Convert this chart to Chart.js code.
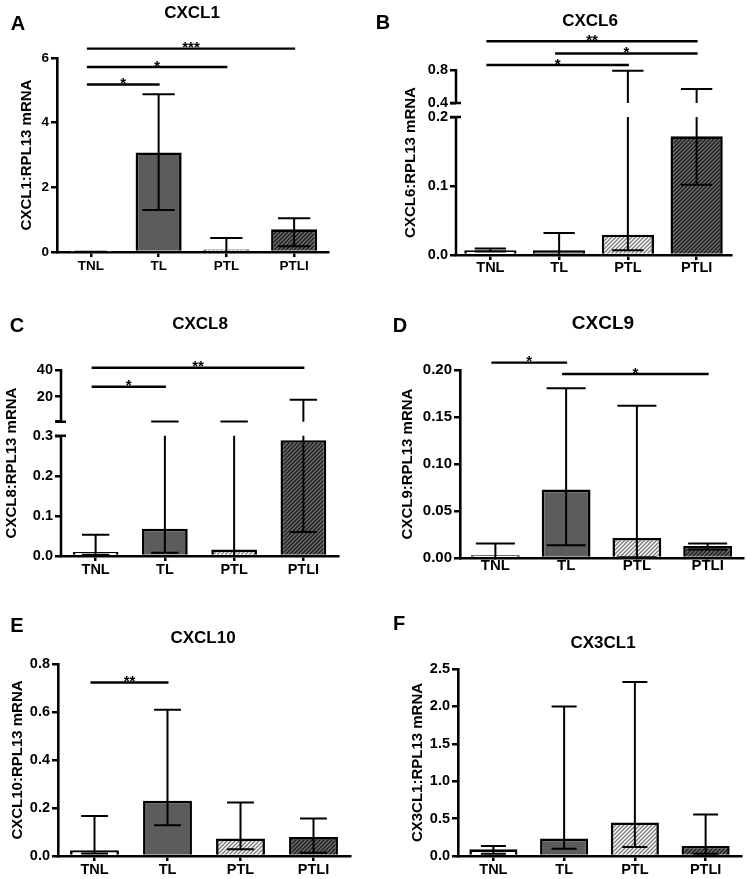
<!DOCTYPE html>
<html>
<head>
<meta charset="utf-8">
<title>Chemokine mRNA</title>
<script src="https://cdn.jsdelivr.net/npm/chart.js@4.4.1/dist/chart.umd.min.js"></script>
<style>
  body { margin: 0; background: #fff; }
  #fig { position: relative; width: 747px; height: 879px; overflow: hidden; font-family: 'Liberation Sans', Arial, sans-serif; font-weight: bold; color: #000; }
  #fig canvas { position: absolute; }
  .lbl { position: absolute; transform: translate(-50%, -50%); line-height: 1; white-space: nowrap; }
  .letter { font-size: 20px; }
  .ttl { font-size: 17px; }
</style>
</head>
<body>
<div id="fig">
  <canvas id="cA" width="373" height="280" style="left:0;top:0"></canvas>
  <canvas id="cB" width="374" height="280" style="left:373px;top:0"></canvas>
  <canvas id="cC" width="373" height="300" style="left:0;top:280px"></canvas>
  <canvas id="cD" width="374" height="300" style="left:373px;top:280px"></canvas>
  <canvas id="cE" width="373" height="299" style="left:0;top:580px"></canvas>
  <canvas id="cF" width="374" height="299" style="left:373px;top:580px"></canvas>

  <div class="lbl letter" style="left:18px;top:23px">A</div>
  <div class="lbl ttl" style="left:192px;top:12px">CXCL1</div>
  <div class="lbl letter" style="left:383px;top:22px">B</div>
  <div class="lbl ttl" style="left:590px;top:20px">CXCL6</div>
  <div class="lbl letter" style="left:17px;top:325px">C</div>
  <div class="lbl ttl" style="left:200px;top:323px">CXCL8</div>
  <div class="lbl letter" style="left:400px;top:325px">D</div>
  <div class="lbl ttl" style="left:603px;top:322px;font-size:19px">CXCL9</div>
  <div class="lbl letter" style="left:17px;top:625px">E</div>
  <div class="lbl ttl" style="left:203px;top:637px">CXCL10</div>
  <div class="lbl letter" style="left:399px;top:623px">F</div>
  <div class="lbl ttl" style="left:603px;top:642px">CX3CL1</div>
</div>
<script>
const groups = ['TNL', 'TL', 'PTL', 'PTLI'];

// CXCL1
const cxcl1Median = [0.004, 3.08, 0.08, 0.70];
const cxcl1Low = [0, 1.30, 0, 0.18];
const cxcl1High = [0.01, 4.88, 0.43, 1.04];
const cxcl1Ticks = [0, 2, 4, 6];
const cxcl1Labels = ['0', '2', '4', '6'];
const cxcl1Range = [[0, 6]];
const cxcl1Sig = [[0, 3, 6.29, '***'], [0, 2, 5.72, '*'], [0, 1, 5.18, '*']];

// CXCL6 (broken axis)
const cxcl6Median = [0.007, 0.007, 0.0295, 0.172];
const cxcl6Low = [0.005, 0, 0.007, 0.1017];
const cxcl6High = [0.0095, 0.032, 0.79, 0.568];
const cxcl6Ticks = [0, 0.1, 0.2, 0.4, 0.8];
const cxcl6Labels = ['0.0', '0.1', '0.2', '0.4', '0.8'];
const cxcl6Range = [[0, 0.2], [0.4, 0.8]];
const cxcl6Sig = [[0, 3, 1.15, '**'], [1, 3, 1.0, '*'], [0, 2, 0.86, '*']];

// CXCL8 (broken axis)
const cxcl8Median = [0.01, 0.068, 0.016, 0.289];
const cxcl8Low = [0.003, 0.008, 0, 0.06];
const cxcl8High = [0.053, 1.2, 1.2, 17.5];
const cxcl8Ticks = [0, 0.1, 0.2, 0.3, 1, 20, 40];
const cxcl8Labels = ['0.0', '0.1', '0.2', '0.3', '', '20', '40'];
const cxcl8Range = [[0, 0.3], [1, 40]];
const cxcl8Sig = [[0, 3, 41.7, '**'], [0, 1, 27.4, '*']];

// CXCL9
const cxcl9Median = [0.0028, 0.0728, 0.0213, 0.0128];
const cxcl9Low = [0, 0.0135, 0.0008, 0.009];
const cxcl9High = [0.0153, 0.1805, 0.162, 0.0153];
const cxcl9Ticks = [0, 0.05, 0.10, 0.15, 0.20];
const cxcl9Labels = ['0.00', '0.05', '0.10', '0.15', '0.20'];
const cxcl9Range = [[0, 0.2]];
const cxcl9Sig = [[0, 1, 0.2078, '*'], [1, 3, 0.1957, '*']];

// CXCL10
const cxcl10Median = [0.0237, 0.23, 0.0725, 0.079];
const cxcl10Low = [0.01, 0.128, 0.028, 0.014];
const cxcl10High = [0.167, 0.609, 0.223, 0.156];
const cxcl10Ticks = [0, 0.2, 0.4, 0.6, 0.8];
const cxcl10Labels = ['0.0', '0.2', '0.4', '0.6', '0.8'];
const cxcl10Range = [[0, 0.8]];
const cxcl10Sig = [[0, 1, 0.723, '**']];

// CX3CL1
const cx3cl1Median = [0.089, 0.233, 0.447, 0.134];
const cx3cl1Low = [0.031, 0.098, 0.121, 0.03];
const cx3cl1High = [0.134, 2.0, 2.326, 0.555];
const cx3cl1Ticks = [0, 0.5, 1, 1.5, 2, 2.5];
const cx3cl1Labels = ['0.0', '0.5', '1.0', '1.5', '2.0', '2.5'];
const cx3cl1Range = [[0, 2.5]];
const cx3cl1Sig = [];

Chart.defaults.font.family = "'Liberation Sans', Arial, sans-serif";
Chart.defaults.color = '#000';

const info = {};

// linear axis that can be split into pieces with a gap between them
class BrokenScale extends Chart.LinearScale {
  buildTicks() {
    this.start = this.min;
    this.end = this.max;
    return info[this.chart.canvas.id].ticks.map(v => ({ value: v }));
  }
  getPixelForValue(v) {
    const segs = info[this.chart.canvas.id].segs;
    let f = 0;
    for (let i = 0; i < segs.length; i++) {
      const s = segs[i], n = segs[i + 1];
      if (v <= s.max || !n) { f = s.lo + (v - s.min) / (s.max - s.min) * (s.hi - s.lo); break; }
      if (v < n.min) { f = s.hi + (v - s.max) / (n.min - s.max) * (n.lo - s.hi); break; }
    }
    return this.bottom - f * (this.bottom - this.top);
  }
  getValueForPixel(p) {
    return this.min;
  }
}
BrokenScale.id = 'broken';
BrokenScale.defaults = Chart.LinearScale.defaults;
Chart.register(BrokenScale);

function hatch(ctx, bg, fg, w) {
  const t = document.createElement('canvas');
  t.width = t.height = 4;
  const g = t.getContext('2d');
  g.fillStyle = bg;
  g.fillRect(0, 0, 4, 4);
  g.strokeStyle = fg;
  g.lineWidth = w;
  g.beginPath();
  g.moveTo(-1, 5); g.lineTo(5, -1);
  g.moveTo(-1, 1); g.lineTo(1, -1);
  g.moveTo(3, 5); g.lineTo(5, 3);
  g.stroke();
  return ctx.createPattern(t, 'repeat');
}

const marks = {
  id: 'panelMarks',
  afterDatasetsDraw(chart) {
    const d = info[chart.canvas.id];
    const ctx = chart.ctx, y = chart.scales.y;
    ctx.save();
    ctx.strokeStyle = '#000';
    ctx.lineWidth = 2;
    chart.getDatasetMeta(0).data.forEach((b, i) => {
      const lo = d.low[i], hi = d.high[i], half = b.width * d.cap / 2;
      ctx.beginPath();
      d.segs.forEach(s => {
        const a = Math.max(lo, s.min), c = Math.min(hi, s.max);
        if (c > a) {
          ctx.moveTo(b.x, y.getPixelForValue(a));
          ctx.lineTo(b.x, y.getPixelForValue(c));
        }
      });
      [lo, hi].forEach(v => {
        const p = y.getPixelForValue(v);
        ctx.moveTo(b.x - half, p);
        ctx.lineTo(b.x + half, p);
      });
      ctx.stroke();
    });
    ctx.restore();
  },
  afterDraw(chart) {
    const d = info[chart.canvas.id];
    const ctx = chart.ctx, y = chart.scales.y, xs = chart.scales.x;
    ctx.save();
    ctx.strokeStyle = '#000';
    ctx.fillStyle = '#000';
    ctx.lineWidth = 2.5;
    // split y axis
    if (d.segs.length > 1) {
      const x = chart.chartArea.left;
      d.segs.forEach((s, i) => {
        const p1 = y.getPixelForValue(s.min), p2 = y.getPixelForValue(s.max);
        ctx.beginPath();
        ctx.moveTo(x, p1 + (i === 0 ? 1 : 0));
        ctx.lineTo(x, p2 - (i === d.segs.length - 1 ? 1 : 0));
        if (i > 0) { ctx.moveTo(x - 6, p1); ctx.lineTo(x + 5, p1); }
        if (i < d.segs.length - 1) { ctx.moveTo(x - 6, p2); ctx.lineTo(x + 5, p2); }
        ctx.stroke();
      });
    }
    // significance bars
    ctx.lineWidth = 2.4;
    ctx.font = "bold 15px 'Liberation Sans', Arial, sans-serif";
    ctx.textAlign = 'center';
    ctx.textBaseline = 'alphabetic';
    d.sig.forEach(([a, b, v, t]) => {
      const x1 = xs.getPixelForValue(a) - 4, x2 = xs.getPixelForValue(b) + 1, p = y.getPixelForValue(v);
      ctx.beginPath();
      ctx.moveTo(x1, p);
      ctx.lineTo(x2, p);
      ctx.stroke();
      ctx.fillText(t, (x1 + x2) / 2, p + 3.5);
    });
    ctx.restore();
  }
};

function panel(id, d, L) {
  const canvas = document.getElementById(id);
  const ctx = canvas.getContext('2d');
  const segs = d.range.map((r, i) => ({
    min: r[0], max: r[1],
    lo: L.frac ? L.frac[i][0] : 0,
    hi: L.frac ? L.frac[i][1] : 1
  }));
  info[id] = { segs: segs, ticks: d.ticks, low: d.low, high: d.high, sig: d.sig, cap: L.cap };
  const fills = ['#ffffff', '#5c5c5c', hatch(ctx, '#ffffff', '#777777', 1.3), hatch(ctx, '#6e6e6e', '#1c1c1c', 1.4)];
  const tickFont = { size: L.tick, weight: 'bold' };
  return new Chart(ctx, {
    type: 'bar',
    data: {
      labels: groups,
      datasets: [{
        data: d.median,
        backgroundColor: fills,
        borderColor: '#000',
        borderWidth: 2.6,
        barPercentage: L.bar,
        categoryPercentage: 1
      }]
    },
    options: {
      responsive: false,
      animation: false,
      events: [],
      layout: { padding: { top: L.top - L.y, left: 0, right: L.x + L.w - L.right, bottom: 0 } },
      plugins: { legend: { display: false }, title: { display: false }, tooltip: { enabled: false } },
      scales: {
        x: {
          offset: true,
          afterFit: s => { s.height = L.y + L.h - L.bottom; },
          grid: { display: true, offset: false, drawOnChartArea: false, drawTicks: true, tickLength: L.xTick, color: '#000', lineWidth: 2.5 },
          border: { display: true, color: '#000', width: 2.6 },
          ticks: { font: tickFont, color: '#000', padding: L.xPad, maxRotation: 0 }
        },
        y: {
          type: 'broken',
          min: d.range[0][0],
          max: d.range[d.range.length - 1][1],
          afterFit: s => { s.width = L.left - L.x; },
          grid: { display: true, drawOnChartArea: false, drawTicks: true, tickLength: 6, color: '#000', lineWidth: 2.5 },
          border: { display: segs.length === 1, color: '#000', width: 2.6 },
          ticks: { autoSkip: false, font: tickFont, color: '#000', padding: 2, callback: (v, i) => d.labels[i] },
          title: { display: true, text: d.yTitle, font: { size: 15, weight: 'bold' }, color: '#000', padding: { top: L.titleX - L.x - 9, bottom: 0 } }
        }
      }
    },
    plugins: [marks]
  });
}

panel('cA', { median: cxcl1Median, low: cxcl1Low, high: cxcl1High, ticks: cxcl1Ticks, labels: cxcl1Labels, range: cxcl1Range, sig: cxcl1Sig, yTitle: 'CXCL1:RPL13 mRNA' },
  { x: 0, y: 0, w: 373, h: 280, left: 57, top: 58, right: 328, bottom: 252, titleX: 27, tick: 13.5, xPad: 1, xTick: 5, bar: 0.68, cap: 0.7 });
panel('cB', { median: cxcl6Median, low: cxcl6Low, high: cxcl6High, ticks: cxcl6Ticks, labels: cxcl6Labels, range: cxcl6Range, sig: cxcl6Sig, yTitle: 'CXCL6:RPL13 mRNA' },
  { x: 373, y: 0, w: 374, h: 280, left: 456, top: 70, right: 731, bottom: 255, titleX: 411, tick: 14.5, xPad: -1, xTick: 5, bar: 0.76, cap: 0.6, frac: [[0, 0.746], [0.822, 1]] });
panel('cC', { median: cxcl8Median, low: cxcl8Low, high: cxcl8High, ticks: cxcl8Ticks, labels: cxcl8Labels, range: cxcl8Range, sig: cxcl8Sig, yTitle: 'CXCL8:RPL13 mRNA' },
  { x: 0, y: 280, w: 373, h: 300, left: 61, top: 370, right: 338, bottom: 556, titleX: 12, tick: 14.5, xPad: 0, xTick: 5, bar: 0.66, cap: 0.6, frac: [[0, 0.646], [0.722, 1]] });
panel('cD', { median: cxcl9Median, low: cxcl9Low, high: cxcl9High, ticks: cxcl9Ticks, labels: cxcl9Labels, range: cxcl9Range, sig: cxcl9Sig, yTitle: 'CXCL9:RPL13 mRNA' },
  { x: 373, y: 280, w: 374, h: 300, left: 460, top: 370, right: 743, bottom: 558, titleX: 408, tick: 15, xPad: -3, xTick: 2, bar: 0.69, cap: 0.8 });
panel('cE', { median: cxcl10Median, low: cxcl10Low, high: cxcl10High, ticks: cxcl10Ticks, labels: cxcl10Labels, range: cxcl10Range, sig: cxcl10Sig, yTitle: 'CXCL10:RPL13 mRNA' },
  { x: 0, y: 580, w: 373, h: 299, left: 58, top: 664, right: 350, bottom: 856, titleX: 18, tick: 14.5, xPad: 0, xTick: 5, bar: 0.67, cap: 0.55 });
panel('cF', { median: cx3cl1Median, low: cx3cl1Low, high: cx3cl1High, ticks: cx3cl1Ticks, labels: cx3cl1Labels, range: cx3cl1Range, sig: cx3cl1Sig, yTitle: 'CX3CL1:RPL13 mRNA' },
  { x: 373, y: 580, w: 374, h: 299, left: 458, top: 669, right: 741, bottom: 856, titleX: 418, tick: 14.5, xPad: 0, xTick: 5, bar: 0.68, cap: 0.52 });
</script>
</body>
</html>
